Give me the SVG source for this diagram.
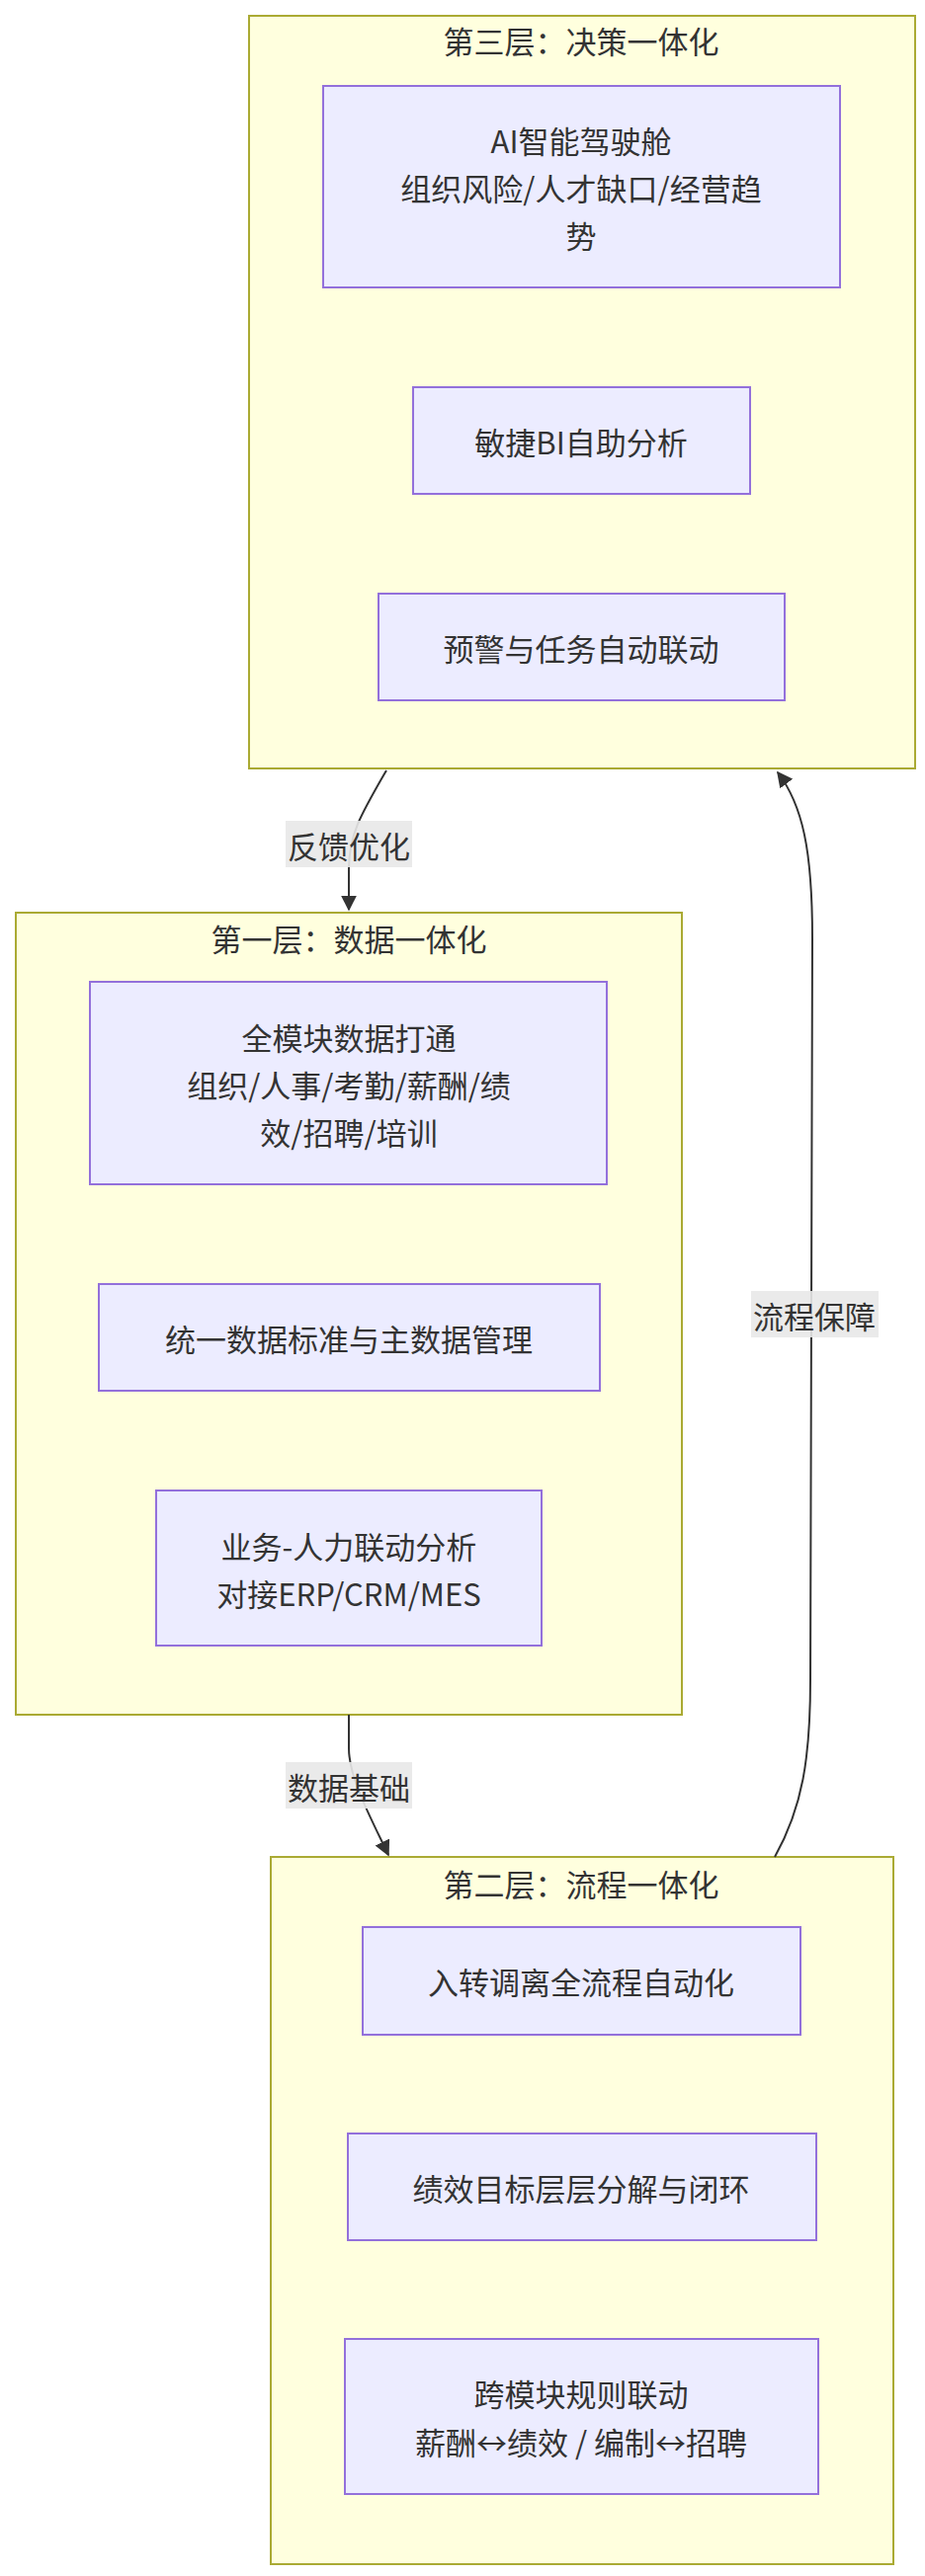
<svg xmlns="http://www.w3.org/2000/svg" width="936" height="2608" viewBox="0 0 936 2608">
<style>
.cl{fill:#ffffde;stroke:#aaaa33;stroke-width:2}
.nd{fill:#ececff;stroke:#9370db;stroke-width:2}
.t{font-family:"Noto Sans CJK SC","Noto Sans",sans-serif;font-size:31px;fill:#333;text-anchor:middle;dominant-baseline:central}
.e{fill:none;stroke:#333;stroke-width:2}
.lb{fill:#e8e8e8;opacity:0.9}
</style>
<defs><marker id="ah" viewBox="0 0 10 10" refX="9" refY="5" markerWidth="8" markerHeight="8" orient="auto-start-reverse"><path d="M0,0 L10,5 L0,10 z" fill="#333"/></marker></defs>
<rect width="936" height="2608" fill="#fff"/>
<g id="L3"><rect class="cl" x="252" y="16" width="674" height="762"/><text class="t" x="588" y="40">第三层：决策一体化</text></g>
<g id="L1"><rect class="cl" x="16" y="924" width="674" height="812"/><text class="t" x="353" y="949">第一层：数据一体化</text></g>
<g id="L2"><rect class="cl" x="274" y="1880" width="630" height="716"/><text class="t" x="588" y="1906">第二层：流程一体化</text></g>
<g id="n1"><rect class="nd" x="327" y="87" width="523" height="204"/><text class="t" x="588" y="141">AI智能驾驶舱</text><text class="t" x="588" y="189">组织风险/人才缺口/经营趋</text><text class="t" x="588" y="237">势</text></g>
<g id="n2"><rect class="nd" x="418" y="392" width="341" height="108"/><text class="t" x="588" y="446">敏捷BI自助分析</text></g>
<g id="n3"><rect class="nd" x="383" y="601" width="411" height="108"/><text class="t" x="588" y="655">预警与任务自动联动</text></g>
<g id="n4"><rect class="nd" x="91" y="994" width="523" height="205"/><text class="t" x="353" y="1049">全模块数据打通</text><text class="t" x="353" y="1097">组织/人事/考勤/薪酬/绩</text><text class="t" x="353" y="1145">效/招聘/培训</text></g>
<g id="n5"><rect class="nd" x="100" y="1300" width="507" height="108"/><text class="t" x="353" y="1354">统一数据标准与主数据管理</text></g>
<g id="n6"><rect class="nd" x="158" y="1509" width="390" height="157"/><text class="t" x="353" y="1564">业务-人力联动分析</text><text class="t" x="353" y="1612">对接ERP/CRM/MES</text></g>
<g id="n7"><rect class="nd" x="367" y="1951" width="443" height="109"/><text class="t" x="588" y="2005">入转调离全流程自动化</text></g>
<g id="n8"><rect class="nd" x="352" y="2160" width="474" height="108"/><text class="t" x="588" y="2214">绩效目标层层分解与闭环</text></g>
<g id="n9"><rect class="nd" x="349" y="2368" width="479" height="157"/><text class="t" x="588" y="2422">跨模块规则联动</text><text class="t" x="588" y="2471">薪酬↔绩效 / 编制↔招聘</text></g>
<g id="edges">
<path class="e" d="M391,780 C365,825 353,845 353,880 L353,921" marker-end="url(#ah)"/>
<path class="e" d="M353,1736 L353,1770 C353,1800 375,1840 393,1878" marker-end="url(#ah)"/>
<path class="e" d="M784,1880 C812,1830 820,1780 820,1700 L822,950 C822,860 812,815 787,782" marker-end="url(#ah)"/>
<rect class="lb" x="289" y="831" width="128" height="47"/><text class="t" x="353" y="855">反馈优化</text>
<rect class="lb" x="289" y="1784" width="128" height="47"/><text class="t" x="353" y="1808">数据基础</text>
<rect class="lb" x="760" y="1307" width="129" height="47"/><text class="t" x="824" y="1331">流程保障</text>
</g>
</svg>
